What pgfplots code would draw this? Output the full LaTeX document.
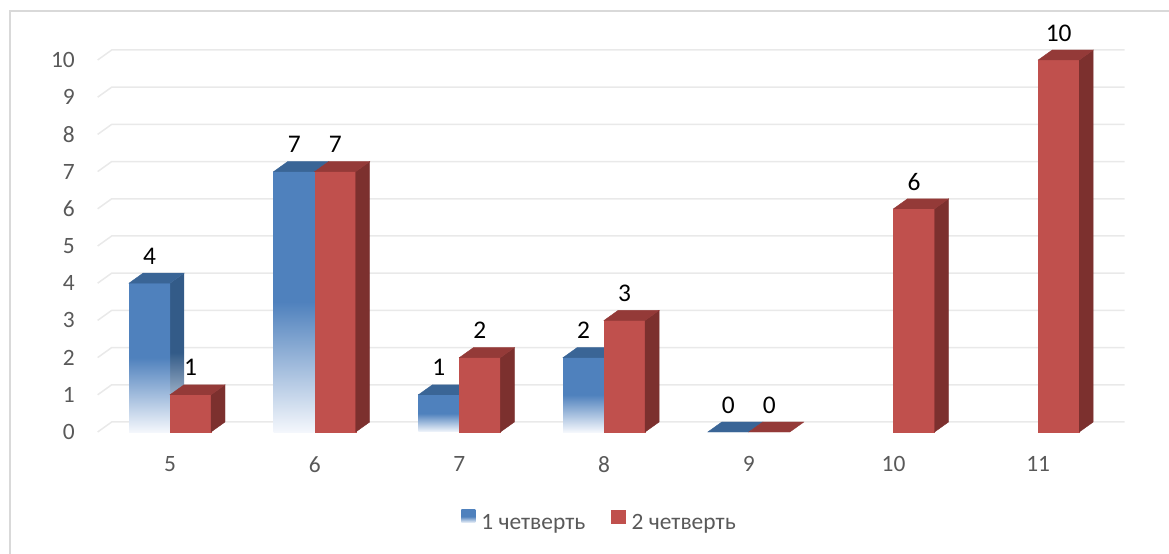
\documentclass[border=0pt]{standalone}
\usepackage{fontspec}
\setmainfont{Carlito}
\usepackage{pgfplots}
\usepackage{pgfplotstable}
\pgfplotsset{compat=1.18}

\definecolor{cblue}{HTML}{4F81BD}
\definecolor{cbluetop}{HTML}{3A6596}
\definecolor{cblueside}{HTML}{335B88}
\definecolor{cbluelight}{HTML}{F4F7FC}
\definecolor{cred}{HTML}{C0504D}
\definecolor{credtop}{HTML}{943A38}
\definecolor{credside}{HTML}{7C302E}
\definecolor{tickgray}{HTML}{595959}
\definecolor{gridgray}{HTML}{E9E9E9}
\definecolor{framegray}{HTML}{D9D9D9}

\newcommand\chartfont{\fontsize{23.5}{28}\selectfont}
\newcommand\labelfont{\fontsize{25.5}{30}\selectfont}
\pgfdeclareplotmark{nomark}{}

% categories 5..11 plotted at 0..6
\pgfplotstableread{
cat q1
0 4
1 7
2 1
3 2
4 0
}\quarterone
\pgfplotstableread{
cat q2
0 1
1 7
2 2
3 3
4 0
5 6
6 10
}\quartertwo

\begin{document}
\begin{tikzpicture}
\useasboundingbox (0bp,0bp) rectangle (1169bp,554bp);
\draw[framegray, line width=1.2bp] (10bp,-30bp) -- (10bp,543bp) -- (1200bp,543bp);
\begin{axis}[
  at={(97.65bp,122bp)}, anchor=south west,
  x=144.7bp, y=37.2bp,
  xmin=-0.5, xmax=6.5, ymin=0, ymax=10,
  clip=false,
  axis line style={draw=none},
  major tick length=0pt,
  xtick={0,...,6}, xticklabels={5,6,7,8,9,10,11},
  ytick={0,...,10},
  /pgf/number format/assume math mode=true,
  xticklabel style={font=\chartfont, text=tickgray, inner sep=0pt, anchor=north, yshift=-24bp},
  yticklabel style={font=\chartfont, text=tickgray, inner sep=0pt, anchor=east, xshift=-22.6bp},
  legend style={at={(0.4955,-0.2406)}, anchor=center, draw=none, fill=none,
    font=\chartfont, text=tickgray, inner sep=0pt,
    /tikz/every odd column/.append style={column sep=4bp},
    /tikz/every even column/.append style={column sep=24bp}},
  legend columns=-1,
]
% back wall grid
\pgfplotsinvokeforeach{0,...,10}{
  \draw[gridgray, line width=1.5bp] (axis cs:-0.5,#1) -- ++(14bp,10bp)
    -- ([xshift=14bp,yshift=10bp]axis cs:6.5,#1);
}

% 1 четверть (left bar, faded front)
\addplot[scatter, only marks, mark=nomark,
  visualization depends on={rawy \as \bval},
  scatter/@pre marker code/.code={%
    \pgfmathsetmacro\h{\bval*37.2}%
    \ifdim\h pt>0.5pt
      \shade[draw=none, top color=cblueside, bottom color=cbluelight, middle color=cblueside]
        (0bp,0bp) -- (14bp,10bp) -- (14bp,10bp-\h bp) -- (0bp,-\h bp) -- cycle;
      \shade[draw=none, top color=cblue, bottom color=cbluelight, middle color=cblue]
        (-41bp,-\h bp) rectangle (0bp,0bp);
    \fi
    \fill[cbluetop] (-41bp,0bp) -- (0bp,0bp) -- (14bp,10bp) -- (-27bp,10bp) -- cycle;
    \node[font=\labelfont, text=black, inner sep=0pt] at (-20.5bp,27bp)
      {\pgfmathprintnumber{\bval}};
  },
  scatter/@post marker code/.code={},
  legend image code/.code={%
    \shade[draw=none, top color=cblue, bottom color=cbluelight, middle color=cblue]
      (0bp,0bp) rectangle (14bp,13bp);},
] table[x=cat, y=q1] {\quarterone};
\addlegendentry{1 четверть}

% 2 четверть (right bar)
\addplot[scatter, only marks, mark=nomark,
  visualization depends on={rawy \as \bval},
  scatter/@pre marker code/.code={%
    \pgfmathsetmacro\h{\bval*37.2}%
    \ifdim\h pt>0.5pt
      \fill[cred] (0bp,-\h bp) rectangle (41bp,0bp);
      \fill[credside] (41bp,0bp) -- (55bp,10bp) -- (55bp,10bp-\h bp) -- (41bp,-\h bp) -- cycle;
    \fi
    \fill[credtop] (0bp,0bp) -- (41bp,0bp) -- (55bp,10bp) -- (14bp,10bp) -- cycle;
    \node[font=\labelfont, text=black, inner sep=0pt] at (20.5bp,27bp)
      {\pgfmathprintnumber{\bval}};
  },
  scatter/@post marker code/.code={},
  legend image code/.code={%
    \fill[cred] (0bp,0bp) rectangle (14bp,13bp);},
] table[x=cat, y=q2] {\quartertwo};
\addlegendentry{2 четверть}
\end{axis}
\end{tikzpicture}
\end{document}
